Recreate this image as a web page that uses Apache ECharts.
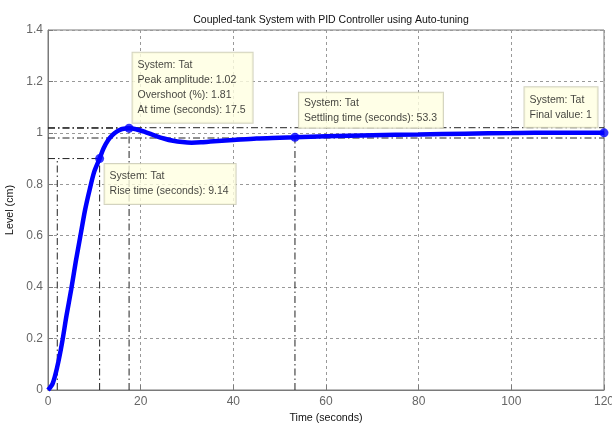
<!DOCTYPE html>
<html>
<head>
<meta charset="utf-8">
<script src="https://cdn.jsdelivr.net/npm/echarts@6/dist/echarts.min.js"></script>
<style>
  html, body { margin: 0; padding: 0; background: #fff; }
  #chart { width: 612px; height: 426px; }
</style>
</head>
<body>
<div id="chart"></div>
<script>
// step response of the coupled-tank loop
const timeData = [0, 1, 2, 3, 4, 5, 6, 7, 8, 9, 10, 11.14, 12, 13, 14, 15, 16, 17.5, 19, 21, 23, 25, 27, 29, 31, 33, 35, 40, 45, 50, 53.3, 60, 70, 80, 90, 100, 105, 120];
const levelData = [0, 0.025, 0.09, 0.18, 0.29, 0.39, 0.5, 0.6, 0.7, 0.78, 0.85, 0.9, 0.94, 0.972, 0.993, 1.007, 1.015, 1.018, 1.014, 1.003, 0.99, 0.978, 0.969, 0.964, 0.962, 0.963, 0.966, 0.972, 0.978, 0.981, 0.983, 0.987, 0.991, 0.994, 0.997, 0.999, 1.0, 1.0];

const xTicks = [0, 20, 40, 60, 80, 100, 120];
const yTicks = [0, 0.2, 0.4, 0.6, 0.8, 1, 1.2, 1.4];

// characteristics
const riseStart = 2.0, riseEnd = 11.14, riseLevel = 0.9, riseTime = 9.14;
const peakTime = 17.5, peakLevel = 1.018, peakAmp = 1.02, overshoot = 1.81;
const settleTime = 53.3, settleLevel = 0.983, bandUpper = 1.02, bandLower = 0.98;
const finalTime = 120, finalLevel = 1;

const font = 'Liberation Sans, Arial, sans-serif';

const chart = echarts.init(document.getElementById('chart'));

const dashDot = { color: '#222', width: 1, type: [7, 3, 1.5, 3] };
function refLine(pts) {
  return {
    type: 'line', data: pts, symbol: 'none', silent: true, z: 1,
    lineStyle: dashDot, animation: false
  };
}

const tipBox = {
  show: true,
  color: '#111',
  fontFamily: font,
  fontSize: 10.5,
  lineHeight: 15,
  backgroundColor: '#ffffe1',
  borderColor: '#c8c8b0',
  borderWidth: 1,
  align: 'left',
  verticalAlign: 'top'
};

const pts = timeData.map((t, i) => [t, levelData[i]]);

chart.setOption({
  animation: false,
  title: {
    text: 'Coupled-tank System with PID Controller using Auto-tuning',
    left: 326, top: 10, textAlign: 'center',
    textStyle: { fontSize: 10.5, fontWeight: 'normal', color: '#111', fontFamily: font }
  },
  grid: {
    left: 48, right: 8, top: 30, bottom: 36,
    outerBoundsMode: 'none', containLabel: false,
    show: true, borderColor: '#7a7a7a', borderWidth: 1, backgroundColor: '#fff'
  },
  xAxis: {
    type: 'value', min: xTicks[0], max: xTicks[xTicks.length - 1], interval: 20,
    name: 'Time (seconds)', nameLocation: 'middle', nameGap: 21,
    nameTextStyle: { color: '#111', fontSize: 10.7, fontFamily: font },
    axisLine: { lineStyle: { color: '#7a7a7a' } },
    axisTick: { inside: true, length: 5, lineStyle: { color: '#7a7a7a' } },
    axisLabel: { color: '#666', fontSize: 12, margin: 6, fontFamily: font },
    splitLine: { show: true, lineStyle: { color: '#999', type: [3, 3], width: 1 } }
  },
  yAxis: {
    type: 'value', min: yTicks[0], max: yTicks[yTicks.length - 1], interval: 0.2,
    name: 'Level (cm)', nameLocation: 'middle', nameGap: 26,
    nameTextStyle: { color: '#111', fontSize: 10.7, fontFamily: font },
    axisLine: { show: true, lineStyle: { color: '#7a7a7a' } },
    axisTick: { show: true, inside: true, length: 5, lineStyle: { color: '#7a7a7a' } },
    axisLabel: { color: '#666', fontSize: 12, margin: 5, fontFamily: font },
    splitLine: { show: true, lineStyle: { color: '#999', type: [3, 3], width: 1 } }
  },
  series: [
    refLine([[0, riseLevel], [riseEnd, riseLevel]]),
    refLine([[riseStart, 0], [riseStart, riseLevel]]),
    refLine([[riseEnd, 0], [riseEnd, riseLevel]]),
    refLine([[0, peakLevel], [peakTime, peakLevel]]),
    refLine([[peakTime, 0], [peakTime, peakLevel]]),
    refLine([[0, bandUpper], [finalTime, bandUpper]]),
    refLine([[0, bandLower], [finalTime, bandLower]]),
    refLine([[settleTime, 0], [settleTime, settleLevel]]),
    {
      type: 'line', data: pts, symbol: 'none', smooth: 0.3, z: 3,
      lineStyle: { color: '#0000ff', width: 4.5 }
    },
    {
      type: 'scatter', z: 5, symbol: 'circle', symbolSize: 9,
      itemStyle: { color: '#0000ff' },
      data: [
        {
          value: [riseEnd, riseLevel],
          label: Object.assign({}, tipBox, {
            position: [9.5, 10], width: 121, padding: [5, 5],
            formatter: 'System: Tat\nRise time (seconds): ' + riseTime
          })
        },
        {
          value: [peakTime, peakLevel],
          label: Object.assign({}, tipBox, {
            position: [8, -71], width: 110, padding: [5, 5],
            formatter: 'System: Tat\nPeak amplitude: ' + peakAmp + '\nOvershoot (%): ' + overshoot + '\nAt time (seconds): ' + peakTime
          })
        },
        {
          value: [settleTime, settleLevel],
          label: Object.assign({}, tipBox, {
            position: [8.5, -40], width: 134, padding: [3, 5, 2, 5],
            formatter: 'System: Tat\nSettling time (seconds): ' + settleTime
          })
        },
        {
          value: [finalTime, finalLevel],
          label: Object.assign({}, tipBox, {
            position: [-75, -41], width: 63, padding: [5, 5],
            formatter: 'System: Tat\nFinal value: ' + finalLevel
          })
        }
      ]
    }
  ]
});
</script>
</body>
</html>
